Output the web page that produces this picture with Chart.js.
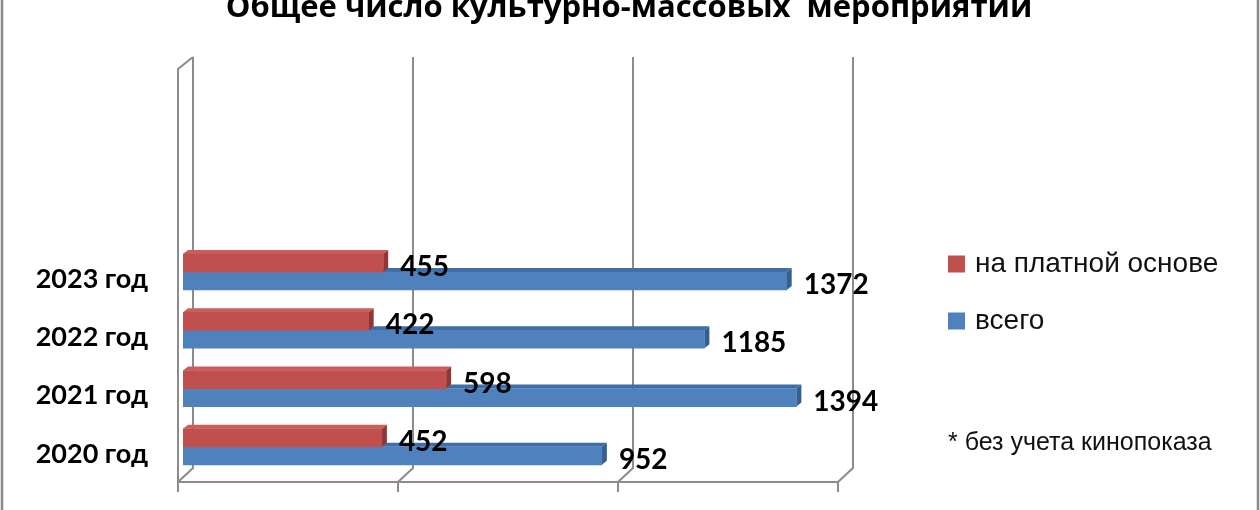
<!DOCTYPE html>
<html><head><meta charset="utf-8">
<script src="https://cdn.jsdelivr.net/npm/chart.js@4.4.1/dist/chart.umd.min.js"></script>
<style>html,body{margin:0;padding:0;background:#fff;overflow:hidden}#wrap{width:1260px;height:510px}</style>
</head><body><div id="wrap"><canvas id="c" width="1260" height="510"></canvas></div>
<script>
const chartTitle = 'Общее число культурно-массовых  мероприятий';
const categories = ['2023 год', '2022 год', '2021 год', '2020 год'];
const paidValues = [455, 422, 598, 452];
const totalValues = [1372, 1185, 1394, 952];
const seriesNames = ['на платной основе', 'всего'];
const footnote = '* без учета кинопоказа';
const xTicks = [0, 500, 1000, 1500];
const emptySlots = 3;

const pad = Array(emptySlots).fill(null);
const labels = Array(emptySlots).fill('').concat(categories);

const COLORS = {
  red:  {front: '#C0504D', top: '#CB5D5A', side: '#8E3735'},
  blue: {front: '#4F81BD', top: '#3F6EA6', side: '#345F93'}
};
const DX = 5, DY = 4;

function face(ctx, pts, color) {
  ctx.fillStyle = color;
  ctx.beginPath();
  ctx.moveTo(pts[0][0], pts[0][1]);
  for (let i = 1; i < pts.length; i++) ctx.lineTo(pts[i][0], pts[i][1]);
  ctx.closePath();
  ctx.fill();
}

const scene = {
  id: 'scene',
  beforeDatasetsDraw(chart) {
    const ctx = chart.ctx, ca = chart.chartArea, xs = chart.scales.x;
    ctx.save();
    ctx.strokeStyle = '#8C8C8C';
    ctx.lineWidth = 2;
    const backTop = ca.top - 11, backBot = ca.bottom - 8, frontBot = ca.bottom + 6, tickEnd = ca.bottom + 16;
    xTicks.forEach((v, i) => {
      const p = xs.getPixelForValue(v);
      const fx = p - 5, bx = p + 10;
      ctx.beginPath();
      ctx.moveTo(bx, backTop); ctx.lineTo(bx, backBot); ctx.lineTo(fx, frontBot); ctx.lineTo(fx, tickEnd);
      ctx.stroke();
      if (i === 0) {
        ctx.beginPath();
        ctx.moveTo(bx, backTop); ctx.lineTo(fx, ca.top + 1); ctx.lineTo(fx, tickEnd);
        ctx.stroke();
      }
    });
    const f0 = xs.getPixelForValue(xTicks[0]) - 5, f1 = xs.getPixelForValue(xTicks[xTicks.length - 1]) - 5;
    ctx.beginPath(); ctx.moveTo(f0, frontBot); ctx.lineTo(f1, frontBot); ctx.stroke();
    [[1, COLORS.blue], [0, COLORS.red]].forEach(([di, col]) => {
      const meta = chart.getDatasetMeta(di);
      meta.data.forEach((el, i) => {
        if (chart.data.datasets[di].data[i] == null) return;
        const {x, y, base, height} = el.getProps(['x', 'y', 'base', 'height'], true);
        const t = y - height / 2, b = y + height / 2;
        face(ctx, [[base, t], [x, t], [x + DX, t - DY], [base + DX, t - DY]], col.top);
        face(ctx, [[x, t], [x + DX, t - DY], [x + DX, b - DY], [x, b]], col.side);
      });
    });
    ctx.restore();
  },
  afterDraw(chart) {
    const ctx = chart.ctx;
    ctx.save();
    ctx.fillStyle = '#000';
    ctx.font = 'bold 28px Lato';
    ctx.textAlign = 'left';
    ctx.textBaseline = 'middle';
    chart.data.datasets.forEach((ds, di) => {
      chart.getDatasetMeta(di).data.forEach((el, i) => {
        if (ds.data[i] == null) return;
        const {x, y} = el.getProps(['x', 'y'], true);
        ctx.fillText(String(ds.data[i]), x + 17, y + 4);
      });
    });
    ctx.font = 'bold 31px "Open Sans"';
    ctx.textAlign = 'center';
    ctx.textBaseline = 'alphabetic';
    ctx.fillText(chartTitle, 629, 17);
    const lx = 948;
    const items = [[seriesNames[0], COLORS.red.front, 264], [seriesNames[1], COLORS.blue.front, 321]];
    ctx.textAlign = 'left';
    ctx.textBaseline = 'middle';
    ctx.font = '28px "Liberation Sans"';
    items.forEach(([txt, col, cy]) => {
      ctx.fillStyle = col;
      ctx.fillRect(lx, cy - 8.5, 17, 17);
      ctx.fillStyle = '#111';
      ctx.fillText(txt, lx + 27, cy);
    });
    ctx.font = '25px "Liberation Sans"';
    ctx.fillText(footnote, lx, 443);
    ctx.strokeStyle = '#888';
    ctx.lineWidth = 2.5;
    ctx.beginPath(); ctx.moveTo(2, 0); ctx.lineTo(2, 510); ctx.moveTo(1258, 0); ctx.lineTo(1258, 510); ctx.stroke();
    ctx.restore();
  }
};

new Chart(document.getElementById('c'), {
  type: 'bar',
  data: {
    labels: labels,
    datasets: [
      {label: seriesNames[0], data: pad.concat(paidValues), backgroundColor: COLORS.red.front, barThickness: 18},
      {label: seriesNames[1], data: pad.concat(totalValues), backgroundColor: COLORS.blue.front, barThickness: 18}
    ]
  },
  options: {
    indexAxis: 'y',
    responsive: false,
    animation: false,
    devicePixelRatio: 1,
    layout: {padding: {left: 0, right: 417, top: 68, bottom: 34}},
    plugins: {legend: {display: false}, title: {display: false}, tooltip: {enabled: false}},
    scales: {
      x: {display: false, min: 0, max: 1500},
      y: {
        grid: {display: false, drawTicks: false},
        border: {display: false},
        ticks: {font: {family: 'Lato', weight: 'bold', size: 27}, color: '#000', padding: 35, labelOffset: 7, autoSkip: false},
        afterFit(scale) { scale.width = 183; scale.paddingTop = 0; scale.paddingBottom = 0; }
      }
    }
  },
  plugins: [scene]
});
</script></body></html>
